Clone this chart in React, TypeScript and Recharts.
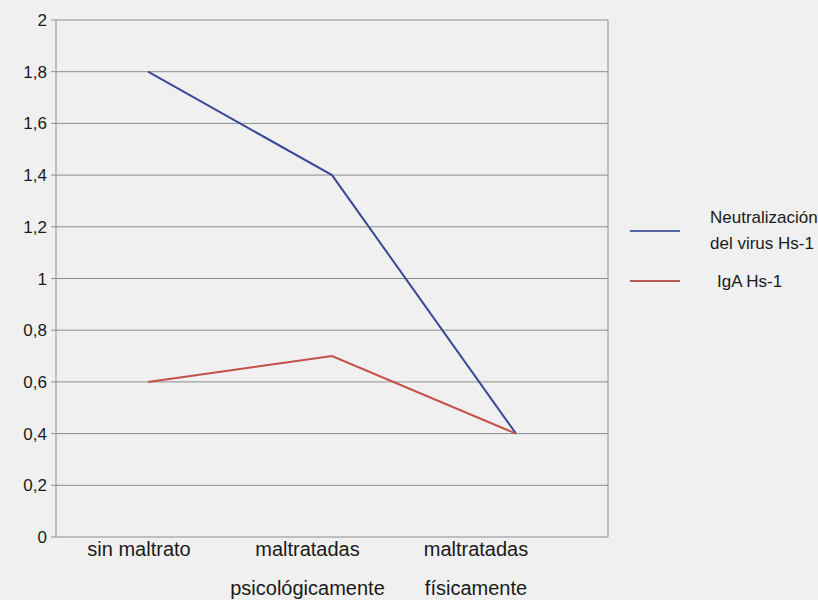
import React from "react"
import { CartesianGrid, Line, LineChart, XAxis, YAxis } from "recharts"

const CATEGORIES = ["sin maltrato", "maltratadas\npsicológicamente", "maltratadas\nfísicamente"]
const NEUTRALIZACION = [1.8, 1.4, 0.4]
const IGA = [0.6, 0.7, 0.4]
const Y_TICKS = [0, 0.2, 0.4, 0.6, 0.8, 1, 1.2, 1.4, 1.6, 1.8, 2]

const BLUE = "#3b4896"
const RED = "#c44f47"
const FONT = "'Liberation Sans', Arial, sans-serif"
const TEXT = "#1a1a1a"

const data = CATEGORIES.map((c, i) => ({
  category: c,
  neutralizacion: NEUTRALIZACION[i],
  iga: IGA[i],
}))

// two-line category labels below the axis
const CategoryTick = (props: any) => {
  const { x, y, payload } = props
  const lines = String(payload.value).split("\n")
  return (
    <text x={x} y={y + 11} textAnchor="middle" fill={TEXT} fontSize={20} fontFamily={FONT}>
      {lines.map((l, i) => (
        <tspan key={i} x={x} dy={i === 0 ? 0 : 39}>
          {l}
        </tspan>
      ))}
    </text>
  )
}

const SideLegend = () => (
  <svg width={200} height={110} style={{ position: "absolute", left: 630, top: 190 }}>
    <line x1={0} y1={41} x2={50} y2={41} stroke="#5566a8" strokeWidth={2} />
    <text x={80} y={33} fontSize={17} fontFamily={FONT} fill={TEXT}>
      Neutralización
    </text>
    <text x={80} y={59} fontSize={17} fontFamily={FONT} fill={TEXT}>
      del virus Hs-1
    </text>
    <line x1={0} y1={91} x2={50} y2={91} stroke="#b85a52" strokeWidth={2} />
    <text x={87} y={97} fontSize={17} fontFamily={FONT} fill={TEXT}>
      IgA Hs-1
    </text>
  </svg>
)

export default function App() {
  return (
    <div style={{ position: "fixed", left: 0, top: 0, width: 818, height: 600, background: "#f0f0f0" }}>
      <LineChart width={818} height={600} data={data} margin={{ top: 20, right: 210, bottom: 0, left: 0 }}>
        <CartesianGrid
          stroke="#8c8c8c"
          strokeWidth={1}
          verticalCoordinatesGenerator={(p: any) => [p.offset.left + p.offset.width]}
        />
        {/* axis the lines are plotted on */}
        <XAxis
          xAxisId="plot"
          dataKey="category"
          height={0}
          padding={{ left: 92, right: 92 }}
          axisLine={{ stroke: "#8c8c8c" }}
          tickLine={false}
          tick={false}
        />
        {/* category labels */}
        <XAxis
          xAxisId="labels"
          dataKey="category"
          height={63}
          padding={{ left: 83, right: 132 }}
          axisLine={false}
          tickLine={false}
          tick={<CategoryTick />}
          interval={0}
        />
        <YAxis
          width={56}
          domain={[0, 2]}
          ticks={Y_TICKS}
          interval={0}
          axisLine={{ stroke: "#8c8c8c" }}
          tickLine={{ stroke: "#8c8c8c" }}
          tickSize={5}
          tickMargin={4}
          tick={{ fill: TEXT, fontSize: 17, fontFamily: FONT }}
          tickFormatter={(v: number) => String(v).replace(".", ",")}
        />
        <Line
          xAxisId="plot"
          dataKey="neutralizacion"
          stroke={BLUE}
          strokeWidth={2}
          dot={false}
          isAnimationActive={false}
        />
        <Line
          xAxisId="plot"
          dataKey="iga"
          stroke={RED}
          strokeWidth={2}
          dot={false}
          isAnimationActive={false}
        />
      </LineChart>
      <SideLegend />
    </div>
  )
}
